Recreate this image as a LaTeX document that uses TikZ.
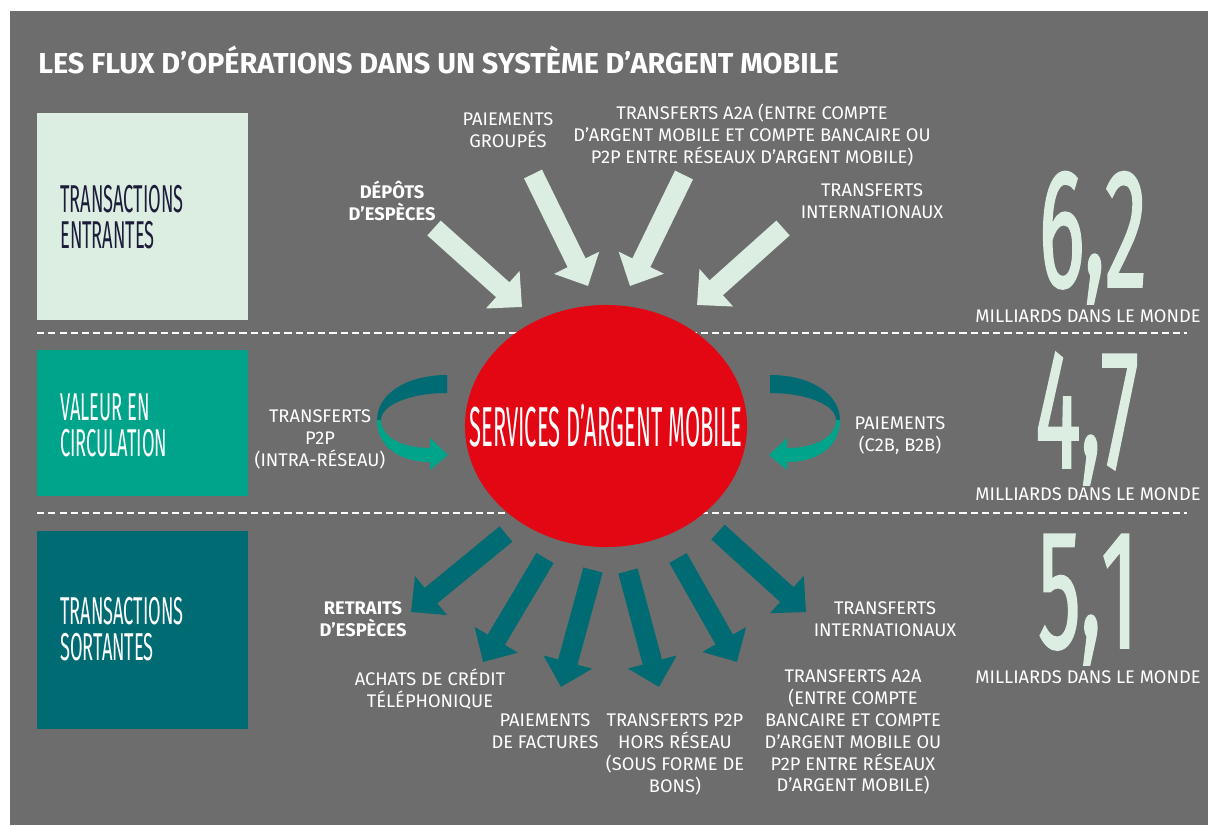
\documentclass[tikz,border=0pt]{standalone}
\usepackage{fontspec}
\setmainfont{Fira Sans}
\newfontfamily\narrowfont[FakeStretch=0.47]{Fira Sans}
\newfontfamily\srvfont[FakeStretch=0.39]{Fira Sans}
\newfontfamily\numfont[FakeStretch=0.5, FakeBold=1]{Fira Sans}
\usetikzlibrary{arrows.meta,shapes.geometric}

\definecolor{bggray}{HTML}{6D6D6D}
\definecolor{mmmint}{HTML}{DCEDE2}
\definecolor{mmgreen}{HTML}{00A48A}
\definecolor{mmdark}{HTML}{006B72}
\definecolor{mmred}{HTML}{E30613}
\definecolor{mmnavy}{HTML}{1D1D3B}

\newcommand{\bignumber}[2]{#1\smash{\raisebox{8pt}{,}}#2}

\begin{document}
\begin{tikzpicture}[x=0.025cm, y=-0.025cm,
    lbl/.style={text=white, align=center, inner sep=0pt,
      font=\fontsize{13}{15.6}\selectfont},
    lblb/.style={lbl, font=\bfseries\fontsize{13}{15.6}\selectfont},
    boxtext/.style={anchor=west, align=left, inner sep=0pt,
      font=\narrowfont\fontsize{27.6}{25.5}\selectfont},
    bignum/.style={anchor=base, text=mmmint, inner sep=0pt,
      font=\numfont\fontsize{121}{121}\selectfont},
    world/.style={anchor=base, text=white, inner sep=0pt,
      font=\fontsize{13}{15.6}\selectfont},
    inarrow/.style={draw=mmmint, line width=14.2pt,
      -{Triangle[length=18.4pt, width=34.7pt]}},
    outarrow/.style={inarrow, draw=mmdark}]
  \useasboundingbox (0,0) rectangle (1208,825);
  \fill[white] (0,0) rectangle (1208,825);
  \fill[bggray] (10,11) rectangle (1208,825);

  \node[anchor=west, text=white, inner sep=0pt,
    font=\bfseries\fontsize{20.5}{22}\selectfont] (title) at (38,60)
    {LES FLUX D’OPÉRATIONS DANS UN SYSTÈME D’ARGENT MOBILE};

  % the three bands on the left
  \fill[mmmint] (37,113) rectangle (248,320);
  \fill[mmgreen] (37,350) rectangle (248,496);
  \fill[mmdark] (37,531) rectangle (248,729);
  \node[boxtext, text=mmnavy] (entrantes) at (60,217) {TRANSACTIONS\\ENTRANTES};
  \node[boxtext, text=white] (circulation) at (60,425) {VALEUR EN\\CIRCULATION};
  \node[boxtext, text=white] (sortantes) at (60,629) {TRANSACTIONS\\SORTANTES};

  \draw[white, line width=1pt, dash pattern=on 5pt off 3pt] (37,333) -- (1187,333);
  \draw[white, line width=1pt, dash pattern=on 5pt off 3pt] (37,513) -- (1187,513);

  \node[ellipse, fill=mmred, minimum width=7.05cm, minimum height=6.05cm,
    inner sep=0pt] (srv) at (606,426) {};
  \node[text=white, inner sep=0pt, font=\srvfont\fontsize{40}{40}\selectfont]
    (srvtext) at (srv.center) {SERVICES D’ARGENT MOBILE};

  % incoming
  \coordinate (dep-s) at (434,228);  \coordinate (dep-e) at (522,307);
  \coordinate (grp-s) at (533,174);  \coordinate (grp-e) at (588,286);
  \coordinate (aai-s) at (684,175);  \coordinate (aai-e) at (630,286);
  \coordinate (int-s) at (783,228);  \coordinate (int-e) at (697,305);
  \draw[inarrow] (dep-s) -- (dep-e);
  \draw[inarrow] (grp-s) -- (grp-e);
  \draw[inarrow] (aai-s) -- (aai-e);
  \draw[inarrow] (int-s) -- (int-e);
  \node[lblb] (dep) at (392,201) {DÉPÔTS\\D’ESPÈCES};
  \node[lbl] (grp) at (508,130) {PAIEMENTS\\GROUPÉS};
  \node[lbl] (aai) at (752,135) {TRANSFERTS A2A (ENTRE COMPTE\\D’ARGENT MOBILE ET COMPTE BANCAIRE OU\\P2P ENTRE RÉSEAUX D’ARGENT MOBILE)};
  \node[lbl] (int) at (872,201) {TRANSFERTS\\INTERNATIONAUX};

  % circulating value
  \fill[mmdark] (447,375) .. controls (405,375) and (377,395) .. (377,420)
    -- (381,420) .. controls (381,405) and (410,393) .. (447,393) -- cycle;
  \fill[mmgreen] (377,420) .. controls (377,447) and (400,462) .. (430,462)
    -- (430,470) -- (448,455) -- (430,438) -- (430,448)
    .. controls (402,448) and (381,437) .. (381,420) -- cycle;
  \fill[mmdark] (770,375) .. controls (812,375) and (840,395) .. (840,420)
    -- (836,420) .. controls (836,405) and (807,393) .. (770,393) -- cycle;
  \fill[mmgreen] (840,420) .. controls (840,447) and (817,462) .. (787,462)
    -- (787,470) -- (769,455) -- (787,438) -- (787,448)
    .. controls (815,448) and (836,437) .. (836,420) -- cycle;
  \node[lbl] (ptp) at (320,439) {TRANSFERTS\\P2P\\(INTRA-RÉSEAU)};
  \node[lbl] (pay) at (900,436) {PAIEMENTS\\(C2B, B2B)};

  % outgoing
  \coordinate (ret-s) at (506,534);  \coordinate (ret-e) at (411,612);
  \coordinate (ach-s) at (545,558);  \coordinate (ach-e) at (483,662);
  \coordinate (fac-s) at (593,570);  \coordinate (fac-e) at (561,687);
  \coordinate (hrs-s) at (628,571);  \coordinate (hrs-e) at (659,687);
  \coordinate (aao-s) at (678,558);  \coordinate (aao-e) at (737,662);
  \coordinate (ino-s) at (718,532);  \coordinate (ino-e) at (806,612);
  \draw[outarrow] (ret-s) -- (ret-e);
  \draw[outarrow] (ach-s) -- (ach-e);
  \draw[outarrow] (fac-s) -- (fac-e);
  \draw[outarrow] (hrs-s) -- (hrs-e);
  \draw[outarrow] (aao-s) -- (aao-e);
  \draw[outarrow] (ino-s) -- (ino-e);
  \node[lblb] (ret) at (363,619) {RETRAITS\\D’ESPÈCES};
  \node[lbl] (ach) at (430,689) {ACHATS DE CRÉDIT\\TÉLÉPHONIQUE};
  \node[lbl] (fac) at (545,731) {PAIEMENTS\\DE FACTURES};
  \node[lbl] (hrs) at (675,754) {TRANSFERTS P2P\\HORS RÉSEAU\\(SOUS FORME DE\\BONS)};
  \node[lbl] (aao) at (853,732) {TRANSFERTS A2A\\(ENTRE COMPTE\\BANCAIRE ET COMPTE\\D’ARGENT MOBILE OU\\P2P ENTRE RÉSEAUX\\D’ARGENT MOBILE)};
  \node[lbl] (ino) at (885,619) {TRANSFERTS\\INTERNATIONAUX};

  % worldwide figures
  \node[bignum] (n-in) at (1093,287) {\bignumber{6}{2}};
  \node[bignum] (n-circ) at (1087,468) {\bignumber{4}{7}};
  \node[bignum] (n-out) at (1088,648) {\bignumber{5}{1}};
  \node[world] (w-in) at (1088,322) {MILLIARDS DANS LE MONDE};
  \node[world] (w-circ) at (1088,500) {MILLIARDS DANS LE MONDE};
  \node[world] (w-out) at (1088,683) {MILLIARDS DANS LE MONDE};
\end{tikzpicture}
\end{document}
